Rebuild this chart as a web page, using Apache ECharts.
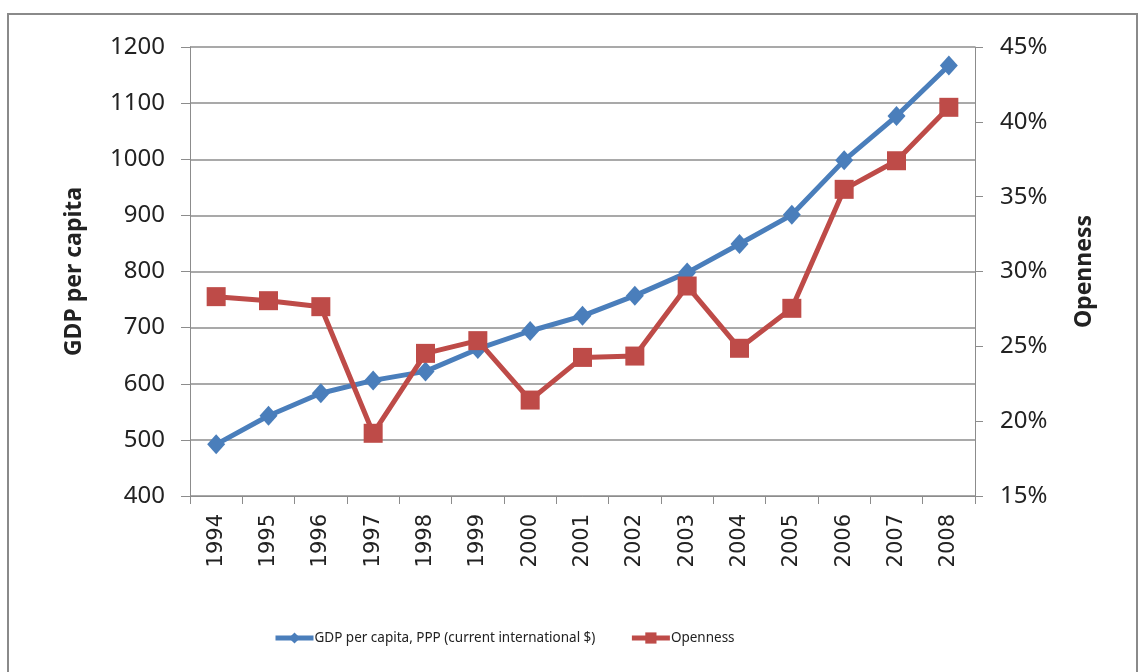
<!DOCTYPE html>
<html>
<head>
<meta charset="utf-8">
<script src="https://cdn.jsdelivr.net/npm/echarts@6/dist/echarts.min.js"></script>
<style>
  html, body { margin: 0; padding: 0; background: #fff; }
  #main { width: 1140px; height: 672px; }
</style>
</head>
<body>
<div id="main"></div>
<script>
// data
const years = ['1994', '1995', '1996', '1997', '1998', '1999', '2000', '2001', '2002', '2003', '2004', '2005', '2006', '2007', '2008'];
const gdpPerCapita = [492, 543, 583, 606, 622, 662, 694, 721, 757, 798, 849, 901, 998, 1077, 1167];
const openness = [0.2832, 0.2805, 0.2765, 0.1919, 0.2453, 0.2538, 0.2141, 0.2426, 0.2435, 0.2903, 0.2487, 0.2754, 0.3549, 0.3740, 0.4097];
const leftTicks = { min: 400, max: 1200, step: 100 };
const rightTicks = { min: 0.15, max: 0.45, step: 0.05 };

const blue = '#4A7EBB';
const red = '#BE4B48';
const gray = '#8c8c8c';
const txt = '#222';

let myChart = echarts.init(document.getElementById('main'));

let option = {
    backgroundColor: '#fff',
    animation: false,
    graphic: [{
        type: 'rect',
        shape: { x: 8, y: 14, width: 1129, height: 700 },
        style: { fill: 'none', stroke: '#8a8a8a', lineWidth: 2 }
    }],
    grid: { left: 190, right: 165, top: 47, bottom: 176 },
    legend: {
        top: 626,
        left: 268,
        itemWidth: 38,
        itemHeight: 14,
        itemGap: 34,
        textStyle: { fontFamily: 'Noto Sans', fontSize: 13.5, color: txt, padding: [0, 0, 0, -4] },
        data: [
            { name: 'GDP per capita, PPP (current international $)', lineStyle: { width: 5 } },
            { name: 'Openness', lineStyle: { width: 5 } }
        ]
    },
    xAxis: {
        type: 'category',
        data: years,
        boundaryGap: true,
        axisLine: { lineStyle: { color: gray, width: 1 } },
        axisTick: { show: true, length: 8, lineStyle: { color: gray } },
        axisLabel: {
            rotate: 90,
            margin: 18,
            fontFamily: 'DejaVu Sans',
            fontSize: 21,
            color: txt
        },
        splitLine: { show: false }
    },
    yAxis: [{
        type: 'value',
        name: 'GDP per capita',
        nameLocation: 'middle',
        nameRotate: 90,
        nameGap: 104,
        nameTextStyle: { fontFamily: 'Noto Sans', fontWeight: 'bold', fontSize: 23, color: txt },
        min: leftTicks.min,
        max: leftTicks.max,
        interval: leftTicks.step,
        axisLine: { show: true, lineStyle: { color: gray } },
        axisTick: { show: true, length: 9, lineStyle: { color: gray } },
        axisLabel: { margin: 25, fontFamily: 'Noto Sans', fontSize: 24, color: txt, formatter: v => String(v) },
        splitLine: { show: true, lineStyle: { color: gray, width: 1.5 } }
    }, {
        type: 'value',
        name: 'Openness',
        nameLocation: 'middle',
        nameRotate: 90,
        nameGap: 98,
        nameTextStyle: { fontFamily: 'Noto Sans', fontWeight: 'bold', fontSize: 23, color: txt },
        min: rightTicks.min,
        max: rightTicks.max,
        interval: rightTicks.step,
        position: 'right',
        axisLine: { show: true, lineStyle: { color: gray } },
        axisTick: { show: true, length: 8, lineStyle: { color: gray } },
        axisLabel: {
            margin: 25,
            fontFamily: 'Noto Sans',
            fontSize: 24,
            color: txt,
            formatter: v => Math.round(v * 100) + '%'
        },
        splitLine: { show: false }
    }],
    series: [{
        name: 'GDP per capita, PPP (current international $)',
        type: 'line',
        yAxisIndex: 0,
        data: gdpPerCapita,
        symbol: 'diamond',
        symbolSize: [18, 20],
        lineStyle: { color: blue, width: 5 },
        itemStyle: { color: blue },
        z: 2
    }, {
        name: 'Openness',
        type: 'line',
        yAxisIndex: 1,
        data: openness,
        symbol: 'rect',
        symbolSize: 19,
        lineStyle: { color: red, width: 5 },
        itemStyle: { color: red },
        z: 3
    }]
};

myChart.setOption(option);
</script>
</body>
</html>
